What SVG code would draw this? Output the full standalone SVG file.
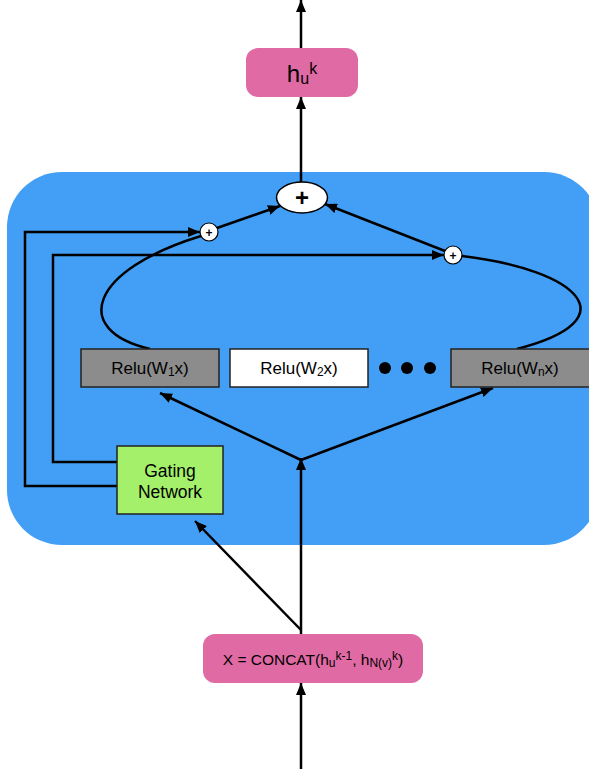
<svg xmlns="http://www.w3.org/2000/svg" width="589" height="769" viewBox="0 0 589 769">
<style>
.ln{stroke:#000;stroke-width:2.5;fill:none}
.t{font-family:"Liberation Sans",Arial,sans-serif;fill:#000;text-anchor:middle}
.box{stroke:#222;stroke-width:1.5}
.pk{fill:#E06AA4}
</style>
<defs>
<marker id="ah" viewBox="0 0 12 10" refX="12" refY="5" markerWidth="12" markerHeight="10" orient="auto" markerUnits="userSpaceOnUse"><path d="M0,0 L12,5 L0,10 z" fill="#000"/></marker>
</defs>
<rect id="container" x="7" y="172" width="592" height="373" rx="55" fill="#429FF5"/>
<g id="connectors">
<line class="ln" x1="301" y1="48" x2="301" y2="0" marker-end="url(#ah)"/>
<line class="ln" x1="301" y1="182" x2="301" y2="97" marker-end="url(#ah)"/>
<line class="ln" x1="217" y1="228" x2="280" y2="206" marker-end="url(#ah)"/>
<line class="ln" x1="445" y1="251" x2="325" y2="204" marker-end="url(#ah)"/>
<polyline class="ln" points="118,486 25,486 25,232 200,232" marker-end="url(#ah)"/>
<polyline class="ln" points="118,462 53,462 53,255 444,255" marker-end="url(#ah)"/>
<path class="ln" d="M201 236 C90 270 70 330 150 349"/>
<path class="ln" d="M462 256 C580 270 630 320 517 349"/>
<line class="ln" x1="301" y1="769" x2="301" y2="683" marker-end="url(#ah)"/>
<line class="ln" x1="301" y1="634" x2="301" y2="458" marker-end="url(#ah)"/>
<line class="ln" x1="301" y1="460" x2="160" y2="393" marker-end="url(#ah)"/>
<line class="ln" x1="301" y1="460" x2="493" y2="388" marker-end="url(#ah)"/>
<line class="ln" x1="301" y1="630" x2="195" y2="521" marker-end="url(#ah)"/>
</g>
<g id="out">
<rect class="pk" x="246" y="48" width="112" height="49" rx="12"/>
<text class="t" x="302" y="82" font-size="24">h<tspan font-size="16" dy="2">u</tspan><tspan font-size="16" dy="-10">k</tspan></text>
</g>
<g id="sum">
<ellipse cx="302" cy="197.5" rx="25.5" ry="15.5" fill="#fff" stroke="#000" stroke-width="1.5"/>
<text class="t" x="302" y="206" font-size="24" font-weight="bold">+</text>
</g>
<g id="plus1">
<circle cx="209" cy="232" r="9" fill="#fff" stroke="#000" stroke-width="1.2"/>
<text class="t" x="209" y="236.5" font-size="12" font-weight="bold">+</text>
</g>
<g id="plus2">
<circle cx="453" cy="255" r="9" fill="#fff" stroke="#000" stroke-width="1.2"/>
<text class="t" x="453" y="259.5" font-size="12" font-weight="bold">+</text>
</g>
<g id="relu1">
<rect class="box" x="81" y="349" width="138" height="38" fill="#8C8C8C"/>
<text class="t" x="150" y="374" font-size="17">Relu(W<tspan font-size="12" dy="2">1</tspan><tspan dy="-2">x)</tspan></text>
</g>
<g id="relu2">
<rect class="box" x="230" y="349" width="138" height="38" fill="#fff"/>
<text class="t" x="299" y="374" font-size="17">Relu(W<tspan font-size="12" dy="2">2</tspan><tspan dy="-2">x)</tspan></text>
</g>
<g id="dots">
<circle cx="385" cy="368" r="6" fill="#000"/>
<circle cx="407" cy="368" r="6" fill="#000"/>
<circle cx="430" cy="368" r="6" fill="#000"/>
</g>
<g id="relun">
<rect class="box" x="451" y="349" width="140" height="38" fill="#8C8C8C"/>
<text class="t" x="520" y="374" font-size="17">Relu(W<tspan font-size="12" dy="2">n</tspan><tspan dy="-2">x)</tspan></text>
</g>
<g id="gating">
<rect class="box" x="117" y="446" width="106" height="68" fill="#A4F06B"/>
<text class="t" x="170" y="477" font-size="17.5">Gating</text>
<text class="t" x="170" y="498" font-size="17.5">Network</text>
</g>
<g id="concat">
<rect class="pk" x="203" y="634" width="220" height="49" rx="12"/>
<text class="t" x="313" y="665" font-size="15.5">X = CONCAT(h<tspan font-size="12" dy="2">u</tspan><tspan font-size="12" dy="-7">k-1</tspan><tspan dy="5">, h</tspan><tspan font-size="12" dy="2">N(v)</tspan><tspan font-size="12" dy="-7">k</tspan><tspan dy="5">)</tspan></text>
</g>
</svg>
